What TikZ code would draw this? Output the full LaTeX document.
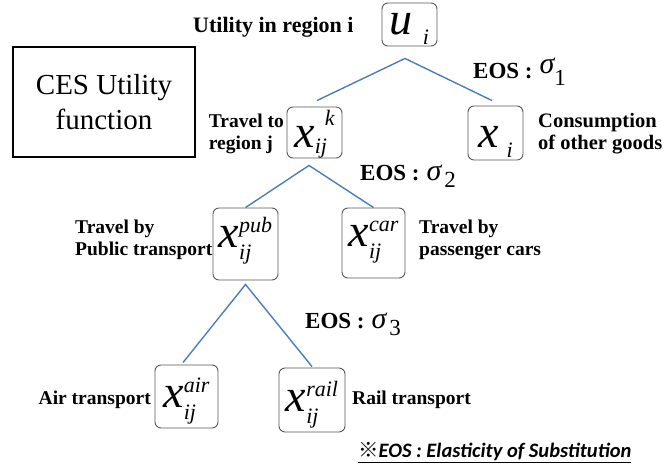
\documentclass[tikz,border=0pt]{standalone}
\usepackage{fontspec}
\setmainfont{Liberation Serif}
\newfontfamily\fnfont{Carlito}
\newfontfamily\cjkfont{Noto Sans CJK JP}
\usetikzlibrary{calc}
\newcommand\mvar[5]{{\fontsize{46}{46}\selectfont\itshape #1}{\fontsize{22}{22}\selectfont\itshape
  \setbox0\hbox{#2}\setbox2\hbox{#3}%
  \ifdim\wd0>\wd2 \dimen0=\wd0 \else \dimen0=\wd2 \fi
  \rlap{\raisebox{#4}{\box0}}\rlap{\raisebox{-#5}{\box2}}\hspace{\dimen0}}}
\newcommand\eos[3]{{\fontsize{23}{23}\selectfont\bfseries EOS :}\hspace{7pt}{\fontsize{30}{30}\selectfont\mdseries\itshape \raisebox{#2}{σ}}\hspace{#3}\raisebox{-7pt}{\fontsize{23}{23}\selectfont\mdseries #1}}
\begin{document}
\begin{tikzpicture}[x=1pt,y=-1pt,
  var/.style={draw=black!65, rounded corners=6pt, line width=0.9pt, inner sep=0pt, align=center, text depth=0pt},
  lab/.style={font=\fontsize{19.5}{22}\selectfont\bfseries, inner sep=0pt, align=left},
  ceslab/.style={draw=black, line width=1.2pt, font=\fontsize{29}{35}\selectfont, align=center, inner sep=0pt}]
\useasboundingbox (0,0) rectangle (670,470);
\definecolor{linkblue}{HTML}{4A7EBB}
\tikzset{link/.style={draw=linkblue, line width=1.4pt}}
% variable boxes
\node[var, minimum width=55pt, minimum height=43pt, text height=21pt] (u) at (409.5,24.5) {\mvar{u\hspace{10pt}}{}{i}{14pt}{10pt}};
\node[var, minimum width=55pt, minimum height=51pt, text height=30pt] (xk) at (314.5,132.5) {\mvar{x}{\hspace{10pt}k}{ij}{22pt}{6pt}};
\node[var, minimum width=55pt, minimum height=54pt, text height=30pt] (xi) at (495.5,133) {\mvar{x\hspace{8pt}}{}{i}{14pt}{10pt}};
\node[var, minimum width=65pt, minimum height=72pt, text height=8pt] (pub) at (245.5,244) {\mvar{x}{pub}{ij}{15pt}{12pt}};
\node[var, minimum width=63pt, minimum height=70pt, text height=8pt] (car) at (373.5,243) {\mvar{x}{car}{ij}{15pt}{12pt}};
\node[var, minimum width=63pt, minimum height=63pt, text height=22pt] (air) at (186.5,396.5) {\mvar{x}{air}{ij}{15pt}{12pt}};
\node[var, minimum width=66pt, minimum height=64pt, text height=24pt] (rail) at (312,400) {\mvar{x}{rail}{ij}{15pt}{12pt}};
% connectors
\draw[link] ([xshift=2.5pt,yshift=6pt]xk.north) -- ([xshift=-4.5pt,yshift=-12pt]u.south) -- ([xshift=-3.5pt,yshift=5pt]xi.north);
\draw[link] (pub.north) -- ([xshift=-5.5pt,yshift=-7pt]xk.south) -- (car.north);
\draw[link] ([xshift=-3.5pt,yshift=2pt]air.north) -- ([yshift=-4pt]pub.south) -- ([yshift=1pt]rail.north);
% title box
\node[ceslab, minimum width=182pt, minimum height=110pt] (ces) at (104,102) {CES Utility\\function};
% labels
\node[lab, anchor=west, font=\fontsize{22}{24}\selectfont\bfseries] (lu) at (193,27) {Utility in region i};
\node[lab, anchor=west] (e1) at (473,72) {\eos{1}{5pt}{0pt}};
\node[lab, anchor=east] (lxk) at (284,134) {Travel to\\region j};
\node[lab, anchor=west, font=\fontsize{20.5}{22}\selectfont\bfseries] (lxi) at (538,134) {Consumption\\of other goods};
\node[lab, anchor=west] (e2) at (360,176) {\eos{2}{0pt}{3pt}};
\node[lab, anchor=west] (lpub) at (75,240) {Travel by\\Public transport};
\node[lab, anchor=west] (lcar) at (419,240) {Travel by\\passenger cars};
\node[lab, anchor=west] (e3) at (305,324) {\eos{3}{0pt}{3pt}};
\node[lab, anchor=east] (lair) at (151,400) {Air transport};
\node[lab, anchor=west] (lrail) at (352,400) {Rail transport};
\node[inner sep=0pt, anchor=west, font=\fontsize{20.5}{22}\fnfont\bfseries\itshape] (fn) at (358,453) {\underline{{\cjkfont ※}EOS : Elasticity of Substitution}};
\end{tikzpicture}
\end{document}
